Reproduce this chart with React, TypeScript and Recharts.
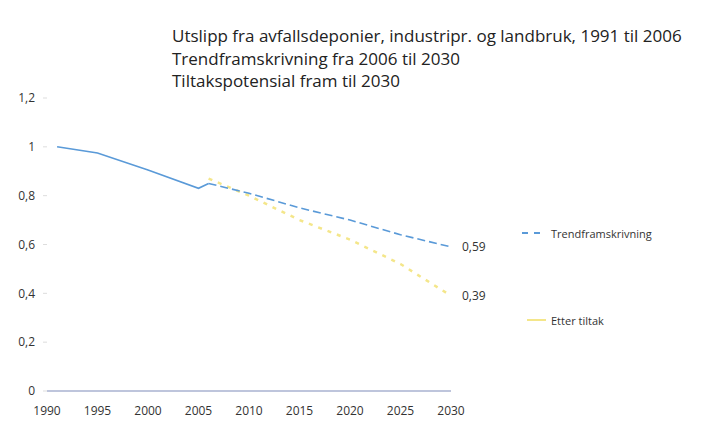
import { LineChart, Line, XAxis, YAxis, Legend, LabelList } from 'recharts';

const years = [1991, 1995, 2000, 2005, 2006, 2010, 2015, 2020, 2025, 2030];
const historisk = [1.0, 0.975, 0.905, 0.83, 0.85, null, null, null, null, null];
const trend = [null, null, null, null, 0.85, 0.81, 0.75, 0.7, 0.64, 0.59];
const tiltak = [null, null, null, null, 0.87, 0.8, 0.7, 0.62, 0.52, 0.39];
const xTicks = [1990, 1995, 2000, 2005, 2010, 2015, 2020, 2025, 2030];
const yTicks = [0, 0.2, 0.4, 0.6, 0.8, 1, 1.2];
const titleLines = [
  'Utslipp fra avfallsdeponier, industripr. og landbruk, 1991 til 2006',
  'Trendframskrivning fra 2006 til 2030',
  'Tiltakspotensial fram til 2030',
];
const legendNames = ['Trendframskrivning', 'Etter tiltak'];

const data = years.map((year, i) => ({
  year,
  historisk: historisk[i],
  trend: trend[i],
  tiltak: tiltak[i],
}));

const FONT = '"Open Sans", "Noto Sans", sans-serif';
const BLUE = '#5a9ad8';
const YELLOW = '#f4e68a';

const fmt = (v: number) => String(v).replace('.', ',');

function endLabel(props: any) {
  const { x, y, value, index } = props;
  if (index !== years.length - 1 || value == null) return null;
  return (
    <text x={x + 11} y={y + 4} fontSize={12} fill="#333" fontFamily={FONT}>
      {fmt(value)}
    </text>
  );
}

function ChartLegend() {
  return (
    <div style={{ fontFamily: FONT, fontSize: 11, color: '#333' }}>
      <div style={{ display: 'flex', alignItems: 'center', height: 16 }}>
        <svg width={30} height={4}>
          <line x1={1} y1={2} x2={24} y2={2} stroke={BLUE} strokeWidth={2} strokeDasharray="6 6" />
        </svg>
        <span>{legendNames[0]}</span>
      </div>
      <div style={{ display: 'flex', alignItems: 'center', height: 16, marginTop: 71 }}>
        <svg width={30} height={4}>
          <line x1={6} y1={2} x2={25} y2={2} stroke={YELLOW} strokeWidth={2} />
        </svg>
        <span>{legendNames[1]}</span>
      </div>
    </div>
  );
}

export default function App() {
  return (
    <div style={{ position: 'absolute', left: 0, top: 0, width: 713, height: 427, background: '#fff' }}>
      <div
        style={{
          position: 'absolute',
          left: 172,
          top: 25,
          fontFamily: FONT,
          fontSize: 17,
          lineHeight: '22.5px',
          color: '#222',
          zIndex: 2,
        }}
      >
        {titleLines.map((t) => (
          <div key={t}>{t}</div>
        ))}
      </div>
      <LineChart
        width={713}
        height={427}
        data={data}
        margin={{ top: 98, right: 262, bottom: 6, left: 7 }}
      >
        <XAxis
          dataKey="year"
          type="number"
          domain={[1990, 2030]}
          ticks={xTicks}
          interval={0}
          tickLine={false}
          tickSize={0}
          tickMargin={15}
          height={30}
          axisLine={{ stroke: '#a9b2d0', strokeWidth: 1.5 }}
          tick={{ fontSize: 12, fill: '#333', fontFamily: FONT }}
        />
        <YAxis
          domain={[0, 1.2]}
          ticks={yTicks}
          interval={0}
          width={40}
          axisLine={false}
          tickLine={{ stroke: '#ddd' }}
          tickSize={4}
          tickMargin={8}
          tickFormatter={fmt}
          tick={{ fontSize: 12, fill: '#333', fontFamily: FONT }}
        />
        <Legend
          layout="vertical"
          align="center"
          verticalAlign="middle"
          content={<ChartLegend />}
          wrapperStyle={{ left: 521, top: 225, width: 180 }}
        />
        <Line
          dataKey="historisk"
          stroke={BLUE}
          strokeWidth={1.6}
          dot={false}
          legendType="none"
          isAnimationActive={false}
        />
        <Line
          dataKey="tiltak"
          stroke={YELLOW}
          strokeWidth={2.5}
          strokeDasharray="4 6"
          dot={false}
          isAnimationActive={false}
        >
          <LabelList dataKey="tiltak" content={endLabel} />
        </Line>
        <Line
          dataKey="trend"
          stroke={BLUE}
          strokeWidth={1.6}
          strokeDasharray="8 4"
          dot={false}
          isAnimationActive={false}
        >
          <LabelList dataKey="trend" content={endLabel} />
        </Line>
      </LineChart>
    </div>
  );
}
